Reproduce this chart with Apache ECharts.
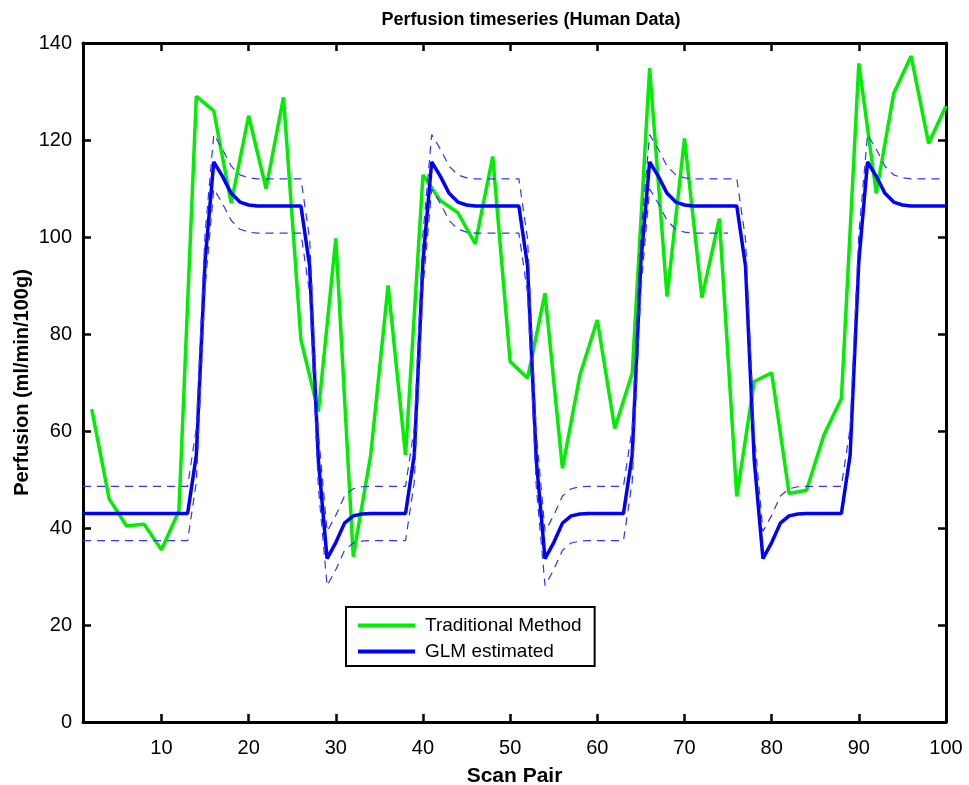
<!DOCTYPE html>
<html>
<head>
<meta charset="utf-8">
<script src="https://cdn.jsdelivr.net/npm/echarts@6/dist/echarts.min.js"></script>
<style>
html, body { margin: 0; padding: 0; background: #fff; }
#chart { width: 969px; height: 785px; }
</style>
</head>
<body>
<div id="chart"></div>
<script>
// scan pairs where the traditional estimate was sampled
var tradScan = [2, 4, 6, 8, 10, 12, 14, 16, 18, 20, 22, 24, 26, 28, 30, 32, 34, 36, 38, 40,
    42, 44, 46, 48, 50, 52, 54, 56, 58, 60, 62, 64, 66, 68, 70, 72, 74, 76, 78, 80,
    82, 84, 86, 88, 90, 92, 94, 96, 98, 100]
var traditional = [64.5, 46, 40.4, 40.8, 35.5, 43.5, 129, 126, 107, 125, 110, 128.8, 78.8, 64, 99.7, 34.1, 55, 90, 55, 112.8,
    107.5, 105, 98.6, 116.6, 74.3, 70.9, 88.4, 52.3, 71.5, 82.9, 60.5, 71.9, 134.8, 87.7, 120.3, 87.5, 103.8, 46.5, 70.2, 72,
    47.1, 47.8, 59.2, 66.7, 135.8, 109, 129.6, 137.3, 119.3, 127]

// GLM estimate, scan pair 1..100
var glm = [
    43, 43, 43, 43, 43, 43, 43, 43, 43, 43, 43, 43, 43,
    55, 95, 115.5, 112.5, 109, 107.2, 106.6, 106.4, 106.4, 106.4, 106.4, 106.4, 106.4,
    94, 54, 33.7, 37, 41, 42.5, 42.9, 43, 43, 43, 43, 43,
    55, 95, 115.5, 112.5, 109, 107.2, 106.6, 106.4, 106.4, 106.4, 106.4, 106.4, 106.4,
    94, 54, 33.7, 37, 41, 42.5, 42.9, 43, 43, 43, 43, 43,
    55, 95, 115.5, 112.5, 109, 107.2, 106.6, 106.4, 106.4, 106.4, 106.4, 106.4, 106.4,
    94, 54, 33.7, 37, 41, 42.5, 42.9, 43, 43, 43, 43, 43,
    55, 95, 115.5, 112.5, 109, 107.2, 106.6, 106.4, 106.4, 106.4, 106.4, 106.4
]
var glmUpper = [
    48.6, 48.6, 48.6, 48.6, 48.6, 48.6, 48.6, 48.6, 48.6, 48.6, 48.6, 48.6, 48.6,
    60.6, 100.6, 121.1, 118.1, 114.6, 112.8, 112.2, 112, 112, 112, 112, 112, 112,
    99.6, 59.6, 39.3, 42.6, 46.6, 48.1, 48.5, 48.6, 48.6, 48.6, 48.6, 48.6,
    60.6, 100.6, 121.1, 118.1, 114.6, 112.8, 112.2, 112, 112, 112, 112, 112, 112,
    99.6, 59.6, 39.3, 42.6, 46.6, 48.1, 48.5, 48.6, 48.6, 48.6, 48.6, 48.6,
    60.6, 100.6, 121.1, 118.1, 114.6, 112.8, 112.2, 112, 112, 112, 112, 112, 112,
    99.6, 59.6, 39.3, 42.6, 46.6, 48.1, 48.5, 48.6, 48.6, 48.6, 48.6, 48.6,
    60.6, 100.6, 121.1, 118.1, 114.6, 112.8, 112.2, 112, 112, 112, 112, 112
]
var glmLower = [
    37.4, 37.4, 37.4, 37.4, 37.4, 37.4, 37.4, 37.4, 37.4, 37.4, 37.4, 37.4, 37.4,
    49.4, 89.4, 109.9, 106.9, 103.4, 101.6, 101, 100.8, 100.8, 100.8, 100.8, 100.8, 100.8,
    88.4, 48.4, 28.1, 31.4, 35.4, 36.9, 37.3, 37.4, 37.4, 37.4, 37.4, 37.4,
    49.4, 89.4, 109.9, 106.9, 103.4, 101.6, 101, 100.8, 100.8, 100.8, 100.8, 100.8, 100.8,
    88.4, 48.4, 28.1, 31.4, 35.4, 36.9, 37.3, 37.4, 37.4, 37.4, 37.4, 37.4,
    49.4, 89.4, 109.9, 106.9, 103.4, 101.6, 101, 100.8, 100.8, 100.8, 100.8, 100.8
]
var xTicks = [10, 20, 30, 40, 50, 60, 70, 80, 90, 100]

var font = 'Liberation Sans, Arial, sans-serif'

function pairs (xs, ys) {
    return ys.map(function (v, i) { return [xs ? xs[i] : i + 1, v] })
}

var boxAxis = {
    axisLine: { show: true, onZero: false, lineStyle: { color: '#000', width: 3 } },
    axisTick: { show: true, inside: true, length: 8, lineStyle: { color: '#000', width: 2.5 } },
    splitLine: { show: false }
}

var chart = echarts.init(document.getElementById('chart'))
var option = {
    animation: false,
    backgroundColor: '#fff',
    title: {
        text: 'Perfusion timeseries (Human Data)',
        left: 526,
        textAlign: 'center',
        top: 6,
        textStyle: { fontFamily: font, fontSize: 18, fontWeight: 'bold', color: '#000' }
    },
    legend: {
        data: ['Traditional Method', 'GLM estimated'],
        orient: 'vertical',
        left: 346,
        top: 607,
        padding: [9, 13, 5, 12],
        icon: 'rect',
        itemWidth: 57,
        itemHeight: 4,
        itemGap: 7,
        borderColor: '#000',
        borderWidth: 2,
        backgroundColor: '#fff',
        textStyle: { fontFamily: font, fontSize: 19, color: '#000', padding: [0, 0, 0, 5] }
    },
    grid: { left: 83, right: 23, top: 43, bottom: 63, outerBoundsMode: 'none' },
    xAxis: [
        Object.assign({}, boxAxis, {
            type: 'value',
            min: 1,
            max: 100,
            position: 'bottom',
            axisTick: Object.assign({}, boxAxis.axisTick, { customValues: xTicks }),
            axisLabel: { customValues: xTicks, color: '#000', fontFamily: font, fontSize: 20, margin: 16 },
            name: 'Scan Pair',
            nameLocation: 'middle',
            nameGap: 44,
            nameTextStyle: { fontFamily: font, fontSize: 21, fontWeight: 'bold', color: '#000' }
        }),
        Object.assign({}, boxAxis, {
            type: 'value',
            min: 1,
            max: 100,
            position: 'top',
            axisTick: Object.assign({}, boxAxis.axisTick, { customValues: xTicks }),
            axisLabel: { show: false }
        })
    ],
    yAxis: [
        Object.assign({}, boxAxis, {
            type: 'value',
            min: 0,
            max: 140,
            interval: 20,
            position: 'left',
            axisLabel: { color: '#000', fontFamily: font, fontSize: 20, margin: 11 },
            name: 'Perfusion (ml/min/100g)',
            nameLocation: 'middle',
            nameGap: 51,
            nameMoveOverlap: false,
            nameRotate: 90,
            nameTextStyle: { fontFamily: font, fontSize: 20, fontWeight: 'bold', color: '#000' }
        }),
        Object.assign({}, boxAxis, {
            type: 'value',
            min: 0,
            max: 140,
            interval: 20,
            position: 'right',
            axisLabel: { show: false }
        })
    ],
    series: [
        {
            name: 'Traditional Method',
            type: 'line',
            data: pairs(tradScan, traditional),
            symbol: 'none',
            color: '#00ee00',
            lineStyle: { color: '#00ee00', width: 3.5 },
            z: 2
        },
        {
            name: 'GLM estimated',
            type: 'line',
            data: pairs(null, glm),
            symbol: 'none',
            color: '#0000ff',
            lineStyle: { color: '#0000ff', width: 3.5 },
            z: 3
        },
        {
            name: 'upper',
            type: 'line',
            data: pairs(null, glmUpper),
            symbol: 'none',
            lineStyle: { color: '#3333ff', width: 1.2, type: [8, 6] },
            z: 4
        },
        {
            name: 'lower',
            type: 'line',
            data: pairs(null, glmLower),
            symbol: 'none',
            lineStyle: { color: '#3333ff', width: 1.2, type: [8, 6] },
            z: 4
        }
    ]
}
chart.setOption(option)
</script>
</body>
</html>
